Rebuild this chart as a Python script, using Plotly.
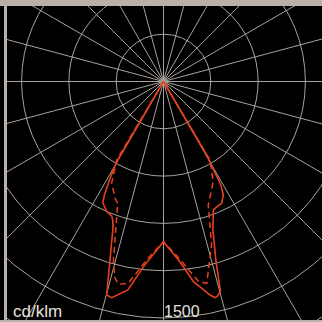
import numpy as np
import plotly.graph_objects as go

# luminous intensity in cd/klm, gamma measured from nadir (deg)
gamma_c0 = [0, 5.2, 8.5, 10.3, 12.3, 13.4, 14.2, 15.2, 16.3, 18.4, 20, 21.2, 23.5, 25.5, 27.8, 29, 30.4, 33, 90]
int_c0 = [1016, 1148, 1284, 1329, 1386, 1409, 1403, 1376, 1186, 993, 913, 874, 862, 856, 814, 750, 540, 0, 0]

gamma_c180 = [0, 5.8, 9.7, 13.5, 14.9, 16.6, 19, 20, 21, 23.6, 26.6, 27.5, 28.9, 30.3, 33, 90]
int_c180 = [1018, 1169, 1341, 1410, 1401, 1188, 985, 940, 915, 900, 860, 812, 701, 584, 0, 0]

gamma_c90 = [0, 5, 10, 12.1, 16.4, 17.4, 18.7, 19.9, 22, 26.4, 30.6, 33, 90]
int_c90 = [1016, 1125, 1290, 1309, 1081, 987, 905, 833, 788, 710, 578, 0, 0]

gamma_c270 = [0, 5, 9.9, 12.6, 13.9, 15.6, 18, 19.1, 20.6, 22.5, 27, 30.8, 33, 90]
int_c270 = [1016, 1125, 1299, 1318, 1282, 1182, 979, 907, 825, 802, 724, 580, 0, 0]

rings = [300, 600, 900, 1200, 1500, 1800, 2100]
spokes = list(range(0, 360, 15))
unit = "cd/klm"
scale_label = "1500"

RED = "#e8401e"
GRID = "#aaa39d"
FRAME = "#b8b0a9"
TXT = "#e6e2de"


def half_xy(gamma, inten, side):
    g = np.radians(gamma)
    inten = np.array(inten, dtype=float)
    return side * inten * np.sin(g), -inten * np.cos(g)


def plane_curve(g_left, i_left, g_right, i_right):
    xl, yl = half_xy(g_left, i_left, -1)
    xr, yr = half_xy(g_right, i_right, 1)
    return np.concatenate([xl[::-1], xr]), np.concatenate([yl[::-1], yr])


fig = go.Figure()

xs, ys = plane_curve(gamma_c270, int_c270, gamma_c90, int_c90)
fig.add_trace(go.Scatter(x=xs, y=ys, mode="lines",
                         line=dict(color=RED, width=1.5, dash="6px,4px")))
xs, ys = plane_curve(gamma_c180, int_c180, gamma_c0, int_c0)
fig.add_trace(go.Scatter(x=xs, y=ys, mode="lines",
                         line=dict(color=RED, width=1.6)))

shapes = []
for r in rings:
    shapes.append(dict(type="circle", xref="x", yref="y", x0=-r, x1=r, y0=-r, y1=r,
                       line=dict(color=GRID, width=1), layer="below"))
for a in spokes:
    t = np.radians(a)
    shapes.append(dict(type="line", xref="x", yref="y", x0=0, y0=0,
                       x1=2600 * np.sin(t), y1=-2600 * np.cos(t),
                       line=dict(color=GRID, width=1), layer="below"))
# black strip left of the frame bar
shapes.append(dict(type="rect", xref="paper", yref="paper", x0=-7 / 315, x1=-3 / 315,
                   y0=0, y1=1, fillcolor="black", line=dict(width=0)))

fig.update_layout(
    width=322, height=322,
    margin=dict(l=7, r=0, t=6, b=2),
    paper_bgcolor=FRAME, plot_bgcolor="black",
    showlegend=False,
    shapes=shapes,
    xaxis=dict(range=[-992.6, 1005.3], visible=False, fixedrange=True),
    yaxis=dict(range=[-1512.7, 478.8], visible=False, fixedrange=True),
    annotations=[
        dict(text=unit, xref="paper", yref="paper", x=4 / 315, y=0, xanchor="left",
             yanchor="bottom", yshift=-3, showarrow=False,
             font=dict(family="Liberation Sans, Arial", size=17, color=TXT)),
        dict(text=scale_label, xref="x", yref="y", x=0, y=-1500, xanchor="left",
             yanchor="bottom", xshift=-2, yshift=-4, showarrow=False,
             font=dict(family="Liberation Sans, Arial", size=16, color=TXT)),
    ],
)

fig.write_html("out.html", config=dict(displayModeBar=False),
               post_script="document.body.style.margin='0';document.body.style.overflow='hidden';")
